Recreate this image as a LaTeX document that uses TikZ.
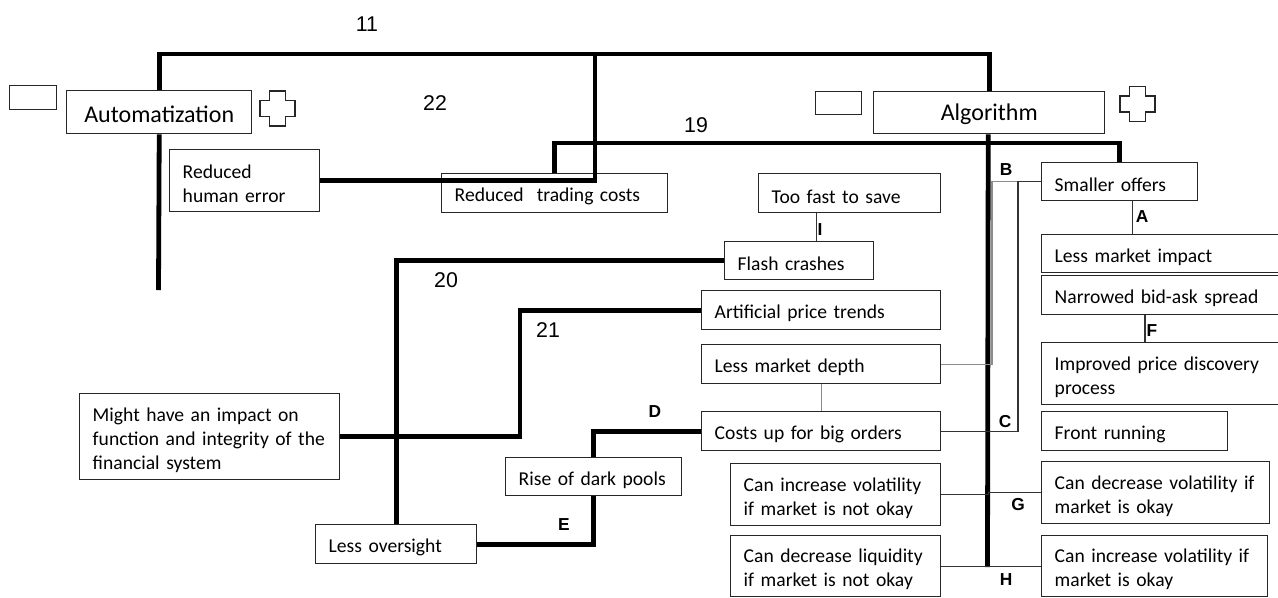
\documentclass[tikz,border=0pt]{standalone}
\usepackage{fontspec}
\setmainfont{Carlito}
\newfontfamily\arialf{Liberation Sans}
\tikzset{
  box/.style={draw=black!85, line width=1.1pt, fill=white, rectangle, anchor=north west,
    inner xsep=0pt, inner ysep=0pt, align=left, font=\fontsize{14.7}{18}\selectfont,
    execute at begin node={\rule{0pt}{15pt}}},
  titlebox/.style={box, align=center, font=\fontsize{18}{21}\selectfont,
    execute at begin node={\rule{0pt}{14pt}}},
  emptybox/.style={draw=black!85, line width=1.1pt, fill=white, rectangle, anchor=north west, inner sep=0pt},
  thickline/.style={line width=3.6pt, draw=black},
  thinline/.style={line width=1.1pt, draw=black!80},
  grayline/.style={line width=1pt, draw=black!45},
  num/.style={font=\arialf\fontsize{16}{18}\selectfont, inner sep=0pt},
  lett/.style={font=\arialf\bfseries\fontsize{13}{14}\selectfont, inner sep=0pt},
  crossst/.style={draw=black!85, line width=1.1pt},
}
\newcommand\bx[7][box]{%
  \pgfmathsetlengthmacro\bxw{#5*0.75pt}%
  \pgfmathsetlengthmacro\bxh{#6*0.75pt}%
  \pgfmathsetlengthmacro\bxt{(#5-26)*0.75pt}%
  \node[#1, minimum width=\bxw, minimum height=\bxh, text width=\bxt] (#2) at (#3,#4) {#7};}
\newcommand\plusshape[2]{%
  \begin{scope}[shift={(#1,#2)}]
    \draw[crossst] (-8,-17.5) -- (8,-17.5) -- (8,-8) -- (17.5,-8) -- (17.5,8) -- (8,8) -- (8,17.5)
      -- (-8,17.5) -- (-8,8) -- (-17.5,8) -- (-17.5,-8) -- (-8,-8) -- cycle;
  \end{scope}}
\begin{document}
\begin{tikzpicture}[x=0.75pt, y=-0.75pt]
\useasboundingbox (0,0) rectangle (1278,597);

% empty rectangles and crosses
\node[emptybox, minimum width=35.25pt, minimum height=18pt] (e1) at (9,85) {};
\node[emptybox, minimum width=34.5pt, minimum height=17.25pt] (e2) at (815,91) {};
\plusshape{277.5}{108.5}
\plusshape{1137.5}{104}

% title boxes
\bx[titlebox]{auto}{66}{90}{185}{43}{\mbox{Automatization}}
\bx[titlebox]{alg}{873}{91}{231}{42}{\mbox{Algorithm}}

% left / middle boxes
\bx{rhe}{169}{149}{150}{62}{\mbox{Reduced}\\\mbox{human error}}
\bx{rtc}{441}{173}{226}{39}{\mbox{Reduced~ trading costs}}
\bx{toofast}{758}{173}{182}{39}{\mbox{Too fast to save}}
\bx{flash}{724}{241}{149}{38}{\mbox{Flash crashes}}
\bx{apt}{701}{290}{239}{39}{\mbox{Artificial price trends}}
\bx{lmd}{701}{344}{239}{39}{\mbox{Less market depth}}
\bx{costs}{701}{411}{239}{39}{\mbox{Costs up for big orders}}
\bx{might}{79}{393}{260}{86}{\mbox{Might have an impact on}\\\mbox{function and integrity of the}\\\mbox{financial system}}
\bx{rdp}{505}{457}{176}{38}{\mbox{Rise of dark pools}}
\bx{lo}{315}{524}{161}{39}{\mbox{Less oversight}}
\bx{civ}{730}{463}{210}{62}{\mbox{Can increase volatility}\\\mbox{if market is not okay}}
\bx{cdl}{730}{535}{210}{61}{\mbox{Can decrease liquidity}\\\mbox{if market is not okay}}

% right boxes
\bx{smaller}{1041}{162}{156}{38}{\mbox{Smaller offers}}
\bx{lmi}{1041}{234}{237}{38}{\mbox{Less market impact}}
\bx{narrowed}{1041}{275}{237}{39}{\mbox{Narrowed bid-ask spread}}
\bx{improved}{1041}{342}{237}{62}{\mbox{Improved price discovery}\\\mbox{process}}
\bx{front}{1041}{411}{186}{39}{\mbox{Front running}}
\bx{cdv}{1041}{461}{228}{62}{\mbox{Can decrease volatility if}\\\mbox{market is okay}}
\bx{civok}{1041}{535}{226}{61}{\mbox{Can increase volatility if}\\\mbox{market is okay}}

% free ends
\coordinate (autoend) at (158.5,290);
\coordinate (j22) at (595,54);
\coordinate (algend) at (987.5,567);

% thick connectors
\draw[thickline] (auto.north) -- ++(0,-36) -| (alg.north);
\draw[thickline] (auto.south) -- (autoend);
\draw[thickline] (rhe.east) -| (j22);
\draw[thickline] (rtc.north) -- ++(0,-30) -| (smaller.north);
\draw[thickline] ([xshift=-0.75pt]alg.south) -- (algend);
\draw[thickline] (flash.west) -| (lo.north);
\draw[thickline] (apt.west) -- ++(-181,0) |- (might.east);
\draw[thickline] (lo.east) -| (rdp.south);
\draw[thickline] (rdp.north) |- (costs.west);

% thin connectors
\draw[grayline] (smaller.west) -- ++(-49,0) |- (lmd.east);
\draw[thinline] (smaller.west) -- ++(-23,0) |- (costs.east);
\draw[thinline] ([xshift=9.75pt]smaller.south) coordinate (a1) -- (a1 |- lmi.north);
\draw[thinline] ([xshift=-11.6pt]narrowed.south) coordinate (f1) -- (f1 |- improved.north);
\draw[thinline] ([xshift=-24.75pt]toofast.south) coordinate (i1) -- (i1 |- flash.north);
\draw[grayline] (lmd.south) -- (costs.north);
\draw[thinline] (civ.east) -- ++(47,0) |- (cdv.west);
\draw[thinline] (cdl.east) -- (civok.west);

% numbers
\node[num] (n11) at (367,24) {11};
\node[num] (n22) at (435,103) {22};
\node[num] (n19) at (696,125) {19};
\node[num] (n20) at (446,280) {20};
\node[num] (n21) at (548,330) {21};

% letters
\node[lett] (lB) at (1006,170) {B};
\node[lett] (lA) at (1142,217) {A};
\node[lett] (lF) at (1152,331) {F};
\node[lett] (lC) at (1005,422) {C};
\node[lett] (lG) at (1018,505) {G};
\node[lett] (lH) at (1006,580) {H};
\node[lett] (lD) at (655,412) {D};
\node[lett] (lE) at (564,525) {E};
\node[lett] (lI) at (820,230) {I};
\end{tikzpicture}
\end{document}
